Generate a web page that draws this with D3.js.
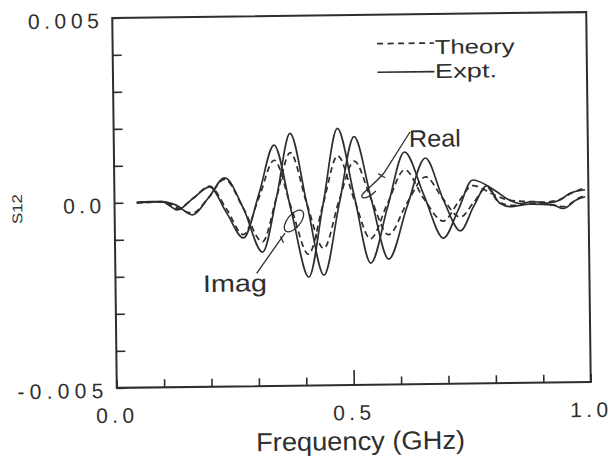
<!DOCTYPE html>
<html><head><meta charset="utf-8">
<script src="https://cdn.jsdelivr.net/npm/d3@7"></script>
<style>html,body{margin:0;padding:0;background:#fff;} svg{display:block;}</style>
</head><body>
<svg id="c" width="608" height="461"></svg>
<script>
// ---------- data ----------
const xTicks = [0,0.1,0.2,0.3,0.4,0.5,0.6,0.7,0.8,0.9,1.0];
const xTickLabels = ["0.0","","","","","0.5","","","","","1.0"];
const yTicks = [-0.005,-0.004,-0.003,-0.002,-0.001,0,0.001,0.002,0.003,0.004,0.005];
const yTickLabels = ["-0.005","","","","","0.0","","","","","0.005"];

// Imag, experiment (solid)
const imagExptF = [0.047,0.075,0.100,0.117,0.132,0.166,0.201,0.236,0.271,0.305,0.338,0.373,0.408,0.440,0.472,0.506,0.539,0.576,0.613,0.653,0.693,0.725,0.756,0.806,0.827,0.855,0.883,0.912,0.940,0.961,0.993];
const imagExptV = [0,0.00002,0.00002,-0.0001,-0.00021,0.0001,0.0004,-0.0003,-0.00099,0.0002,0.00151,-0.0003,-0.00207,-0.0001,0.00194,0.0001,-0.00171,-0.0002,0.00128,0.0001,-0.00106,-0.0003,0.0005,0.00018,-0.00001,-0.00015,-0.0001,-0.00015,-0.00007,0.00011,0.0002];
// Real, experiment (solid)
const realExptF = [0.047,0.075,0.100,0.130,0.164,0.198,0.233,0.272,0.311,0.342,0.372,0.406,0.440,0.474,0.507,0.542,0.577,0.617,0.657,0.693,0.729,0.758,0.786,0.813,0.834,0.876,0.925,0.946,0.975,0.993];
const realExptV = [0,0.00001,0.00002,-0.00008,-0.00035,0.0001,0.00064,-0.0002,-0.00138,0.0001,0.00182,-0.0001,-0.00202,-0.0001,0.00171,0,-0.00161,-0.0002,0.00111,0,-0.00087,-0.0002,0.00034,-0.00014,-0.00023,-0.00017,-0.0002,-0.0003,-0.00007,0.00001];
// Imag, theory (dashed)
const imagTheoF = [0.047,0.100,0.132,0.166,0.201,0.236,0.271,0.305,0.338,0.373,0.408,0.440,0.472,0.506,0.539,0.576,0.613,0.653,0.693,0.725,0.756,0.800,0.830,0.870,0.910,0.940,0.965,0.993];
const imagTheoV = [0,0.00001,-0.00018,0.0001,0.00042,-0.0002,-0.0009,0.0001,0.0011,-0.0002,-0.00145,-0.0001,0.0012,0,-0.00105,-0.0001,0.0008,0,-0.0006,-0.0001,0.00035,0.0001,-0.00005,-0.0001,-0.00012,-0.00005,0.00012,0.00025];
// Real, theory (dashed)
const realTheoF = [0.047,0.100,0.164,0.198,0.233,0.272,0.311,0.342,0.372,0.406,0.440,0.474,0.507,0.542,0.577,0.617,0.657,0.693,0.729,0.758,0.786,0.810,0.840,0.880,0.920,0.950,0.975,0.993];
const realTheoV = [0,0.00001,-0.0003,0.0001,0.0006,-0.0002,-0.0011,0.0001,0.0013,-0.0001,-0.0013,0,0.00105,0,-0.00095,-0.0001,0.0006,0,-0.0005,-0.0001,0.0003,-0.0001,-0.0002,-0.00015,-0.0002,-0.00025,-0.00005,0.00005];

const legendLabels = ["Theory","Expt."];

// ---------- layout ----------
const L = 114.5, R = 588.5, T = 15, B = 385;
const ink = "#2e2e2e";
const svg = d3.select("#c");
const g = svg.append("g").attr("transform","rotate(-0.7,351.5,200)");

const x = d3.scaleLinear().domain([0,1]).range([L,R]);
const y = d3.scaleLinear().domain([-0.005,0.005]).range([B,T]);

// frame
g.append("rect").attr("x",L).attr("y",T).attr("width",R-L).attr("height",B-T)
  .attr("fill","none").attr("stroke",ink).attr("stroke-width",2);

const numFont = "'Liberation Sans', Arial, sans-serif";
const lenFor = s => ({3:38,5:71,6:86})[s.length] || 14*s.length;

// x axis
const xa = g.append("g").attr("transform",`translate(0,${B})`)
  .call(d3.axisBottom(x).tickValues(xTicks).tickSize(-8).tickPadding(20)
    .tickFormat((d,i)=>xTickLabels[i]));
xa.select(".domain").remove();
xa.selectAll(".tick line").attr("stroke",ink).attr("stroke-width",1.6)
  .attr("y2",(d)=>Math.abs(d-0.5)<1e-9 ? -15 : -8);
xa.selectAll(".tick text").attr("fill",ink).attr("font-family",numFont).attr("font-size",21)
  .attr("x",-2.5)
  .each(function(){const s=d3.select(this).text(); if(s) d3.select(this).attr("textLength",lenFor(s)).attr("lengthAdjust","spacing");});

// y axis
const ya = g.append("g").attr("transform",`translate(${L},0)`)
  .call(d3.axisLeft(y).tickValues(yTicks).tickSize(-9).tickPadding(13.5)
    .tickFormat((d,i)=>yTickLabels[i]));
ya.select(".domain").remove();
ya.selectAll(".tick line").attr("stroke",ink).attr("stroke-width",1.6);
ya.selectAll(".tick text").attr("fill",ink).attr("font-family",numFont).attr("font-size",21)
  .attr("dy","0.45em")
  .each(function(){const s=d3.select(this).text(); if(s) d3.select(this).attr("textLength",lenFor(s)).attr("lengthAdjust","spacing");});

// axis titles
const txtFont = "'Liberation Sans', Arial, sans-serif";
g.append("text").attr("x",357.6).attr("y",450).attr("text-anchor","middle")
  .attr("font-family",txtFont).attr("font-size",26).attr("fill",ink)
  .attr("textLength",209).attr("lengthAdjust","spacingAndGlyphs").text("Frequency (GHz)");
g.append("text").attr("transform","translate(22,205) rotate(-90)").attr("text-anchor","middle")
  .attr("font-family",txtFont).attr("font-size",14).attr("fill",ink)
  .attr("textLength",30).attr("lengthAdjust","spacingAndGlyphs").text("S12");

// curves
const line = (F,V) => d3.line().x((d,i)=>x(F[i])).y((d,i)=>y(V[i])).curve(d3.curveMonotoneX)(F);
const series = [
  {F:imagExptF, V:imagExptV, dash:null},
  {F:realExptF, V:realExptV, dash:null},
  {F:imagTheoF, V:imagTheoV, dash:"6,4"},
  {F:realTheoF, V:realTheoV, dash:"6,4"}
];
series.forEach(s=>{
  g.append("path").attr("d",line(s.F,s.V)).attr("fill","none").attr("stroke",ink)
   .attr("stroke-width",1.7).attr("stroke-dasharray",s.dash).attr("stroke-linejoin","round");
});

// legend
const lg = g.append("g");
[["6,4.5",44,55],[null,72.6,79]].forEach((r,i)=>{
  lg.append("line").attr("x1",L+264.5).attr("x2",L+321.5).attr("y1",r[1]).attr("y2",r[1])
    .attr("stroke",ink).attr("stroke-width",1.7).attr("stroke-dasharray",r[0]);
  lg.append("text").attr("x",L+322).attr("y",r[2]).attr("font-family",txtFont).attr("font-size",20)
    .attr("fill",ink).attr("textLength",i===0?80:62).attr("lengthAdjust","spacingAndGlyphs").text(legendLabels[i]);
});

// annotations
const an = g.append("g").attr("fill","none").attr("stroke",ink).attr("stroke-width",1.3);
an.append("path").attr("d","M410.8,132.7 L384.3,173.4 C376,183 368,188 362.5,194.5 C359.5,199.5 367,200 376,191.3");
an.append("path").attr("d","M378.6,173.9 L385.4,178.1");
an.append("ellipse").attr("cx",293.7).attr("cy",220.3).attr("rx",13).attr("ry",6.5)
  .attr("transform","rotate(-50,293.7,220.3)");
an.append("path").attr("d","M284.6,232.2 L255.8,272.1");
an.append("path").attr("d","M280,235.5 L283,242");
g.append("text").attr("x",409.6).attr("y",147.7).attr("font-family",txtFont).attr("font-size",24)
  .attr("fill",ink).attr("textLength",52).attr("lengthAdjust","spacingAndGlyphs").text("Real");
g.append("text").attr("x",201.9).attr("y",290.2).attr("font-family",txtFont).attr("font-size",24)
  .attr("fill",ink).attr("textLength",64).attr("lengthAdjust","spacingAndGlyphs").text("Imag");
</script>
</body></html>
